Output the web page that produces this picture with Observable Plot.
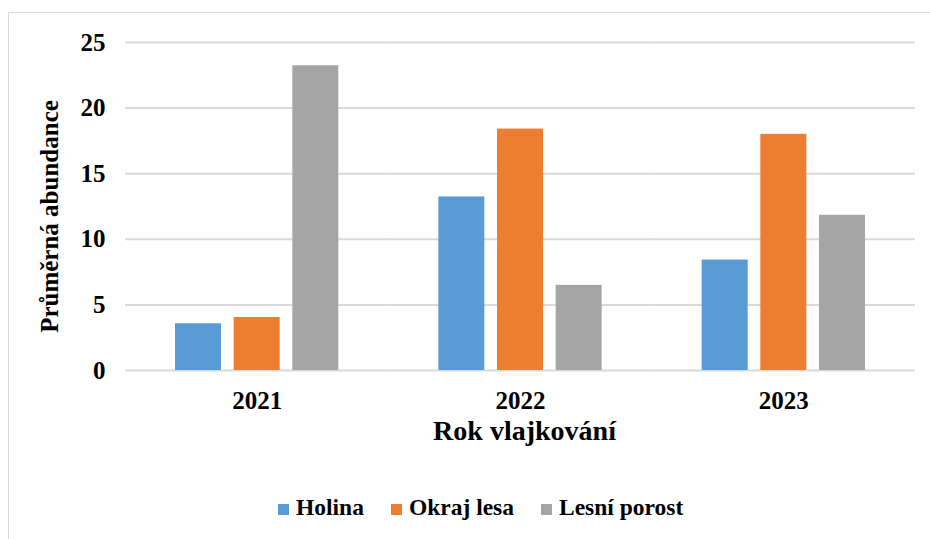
<!DOCTYPE html>
<html>
<head>
<meta charset="utf-8">
<script src="https://cdn.jsdelivr.net/npm/d3@7"></script>
<script src="https://cdn.jsdelivr.net/npm/@observablehq/plot@0.6"></script>
<style>
  html, body { margin: 0; padding: 0; background: #fff; }
  #wrap { position: relative; width: 930px; height: 539px; overflow: hidden; color: #000; }
  #border { position: absolute; left: 8px; top: 12px; width: 940px; height: 560px; border: 1.5px solid #d9d9d9; box-sizing: border-box; }
  #chart { position: absolute; left: 0; top: 0; }
  #legend { position: absolute; left: 278px; top: 494px; display: flex; align-items: baseline; font-size: 23.5px; font-weight: bold; white-space: nowrap; }
  .item { display: flex; align-items: baseline; margin-right: 27px; }
  .sw { display: inline-block; width: 11px; height: 11px; margin-right: 7px; }
</style>
</head>
<body>
<div id="wrap">
  <div id="border"></div>
  <div id="chart"></div>
  <div id="legend"></div>
</div>
<script>
const years = ["2021", "2022", "2023"];
const series = ["Holina", "Okraj lesa", "Lesní porost"];
const colors = ["#5b9bd5", "#ed7d31", "#a5a5a5"];
const holina = [3.56, 13.23, 8.42];
const okrajLesa = [4.04, 18.4, 18.0];
const lesniPorost = [23.23, 6.49, 11.83];
const yTicks = [0, 5, 10, 15, 20, 25];
const yTitle = "Průměrná abundance";
const xTitle = "Rok vlajkování";

const valuesBySeries = [holina, okrajLesa, lesniPorost];
const data = [];
years.forEach((yr, i) => {
  series.forEach((s, j) => data.push({year: yr, series: s, value: valuesBySeries[j][i]}));
});

const fontStack = "'Liberation Serif', 'Times New Roman', Times, 'Nimbus Roman', 'DejaVu Serif', serif";
document.getElementById("legend").style.fontFamily = fontStack;

const chart = Plot.plot({
  width: 930,
  height: 470,
  marginTop: 42,
  marginBottom: 100,
  marginLeft: 125,
  marginRight: 15,
  style: {fontFamily: fontStack, fontWeight: "bold", color: "#000", background: "transparent", overflow: "visible"},
  fx: {domain: years, padding: 0, round: false, axis: null},
  x: {domain: series, paddingInner: 0.216, paddingOuter: 0.8525, round: false, axis: null},
  y: {domain: [0, 25], axis: null},
  color: {domain: series, range: colors},
  marks: [
    Plot.gridY(yTicks, {stroke: "#d9d9d9", strokeOpacity: 1, strokeWidth: 2}),
    Plot.barY(data, {fx: "year", x: "series", y: "value", fill: "series"}),
    Plot.axisY(yTicks, {tickSize: 0, tickPadding: 20, fontSize: 25, label: null}),
    Plot.axisFx({anchor: "bottom", tickSize: 0, tickPadding: 21, fontSize: 25, label: null}),
    Plot.text([{fx: years[0], t: yTitle}], {fx: "fx", text: "t", frameAnchor: "left", rotate: -90, textAnchor: "middle", lineAnchor: "top", dx: -85, dy: 10, fontSize: 25, fontWeight: "bold"}),
    Plot.text([{fx: years[1], t: xTitle}], {fx: "fx", text: "t", frameAnchor: "bottom", textAnchor: "middle", lineAnchor: "bottom", dx: 4, dy: 69, fontSize: 28, fontWeight: "bold"})
  ]
});
document.getElementById("chart").appendChild(chart);

const legend = document.getElementById("legend");
series.forEach((s, i) => {
  const item = document.createElement("div");
  item.className = "item";
  const sw = document.createElement("span");
  sw.className = "sw";
  sw.style.background = colors[i];
  const t = document.createElement("span");
  t.textContent = s;
  item.appendChild(sw);
  item.appendChild(t);
  legend.appendChild(item);
});
</script>
</body>
</html>
